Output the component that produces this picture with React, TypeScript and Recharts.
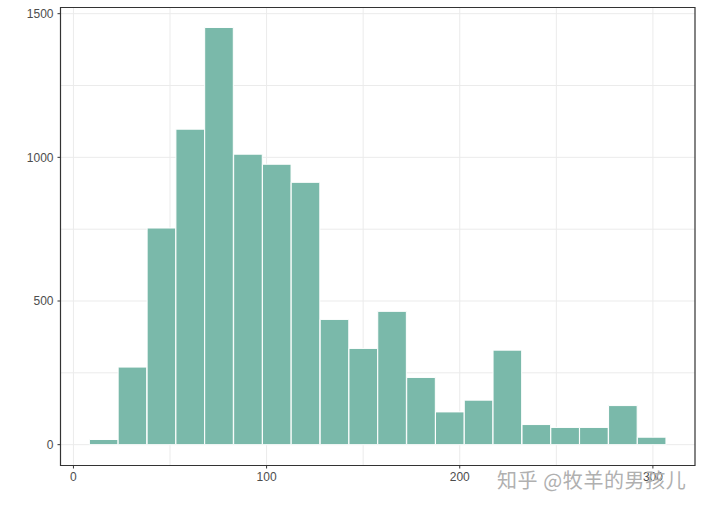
import { ComposedChart, Bar, XAxis, YAxis, CartesianGrid, ReferenceArea } from "recharts";

const binMids = [15.7, 30.6, 45.6, 60.5, 75.4, 90.4, 105.3, 120.2, 135.2, 150.1, 165, 180, 194.9, 209.8, 224.7, 239.7, 254.6, 269.5, 284.5, 299.4];
const counts = [18, 270, 754, 1098, 1452, 1011, 976, 913, 436, 335, 464, 234, 114, 155, 329, 70, 60, 60, 136, 26];
const xTicks = [0, 100, 200, 300];
const yTicks = [0, 500, 1000, 1500];
const xGrid = [0, 50, 100, 150, 200, 250, 300];
const yGrid = [0, 250, 500, 750, 1000, 1250, 1500];
const xDomain = [-6.7, 321.8];
const yDomain = [-72.5, 1521.5];

const data = binMids.map((mid, i) => ({ mid, count: counts[i] }));

const tickStyle = { fill: "#4d4d4d", fontSize: 12, fontFamily: "Liberation Sans" };

const App = () => {
  return (
    <div style={{ position: "absolute", left: 0, top: 0, width: 703, height: 510, background: "#fff" }}>
      <ComposedChart
        width={703}
        height={510}
        data={data}
        barCategoryGap={0}
        margin={{ top: 7.5, right: 8, bottom: 0, left: 0 }}
      >
        <CartesianGrid
          stroke="#ebebeb"
          strokeWidth={1}
          horizontalValues={yGrid}
          verticalValues={xGrid}
        />
        <XAxis
          dataKey="mid"
          type="number"
          domain={xDomain}
          ticks={xTicks}
          height={44.5}
          axisLine={false}
          tickSize={3}
          tickMargin={4}
          tickLine={{ stroke: "#333" }}
          tick={tickStyle}
          allowDataOverflow
        />
        <YAxis
          type="number"
          domain={yDomain}
          ticks={yTicks}
          width={60.5}
          axisLine={false}
          tickSize={3}
          tickMargin={4}
          tickLine={{ stroke: "#333" }}
          tick={tickStyle}
          allowDataOverflow
        />
        <Bar
          dataKey="count"
          fill="#7ab9aa"
          stroke="#ffffff"
          strokeWidth={1}
          barSize={28.6}
          isAnimationActive={false}
        />
        <ReferenceArea
          x1={xDomain[0]}
          x2={xDomain[1]}
          y1={yDomain[0]}
          y2={yDomain[1]}
          fill="none"
          stroke="#333333"
          strokeWidth={1.2}
          ifOverflow="visible"
        />
      </ComposedChart>
      <div
        style={{
          position: "absolute",
          left: 497,
          top: 467,
          fontFamily: "Noto Sans CJK SC",
          fontSize: 20,
          lineHeight: "26px",
          letterSpacing: 0.6,
          color: "#b0b0b0",
          whiteSpace: "nowrap",
        }}
      >
        知乎 @牧羊的男孩儿
      </div>
    </div>
  );
};

export default App;
